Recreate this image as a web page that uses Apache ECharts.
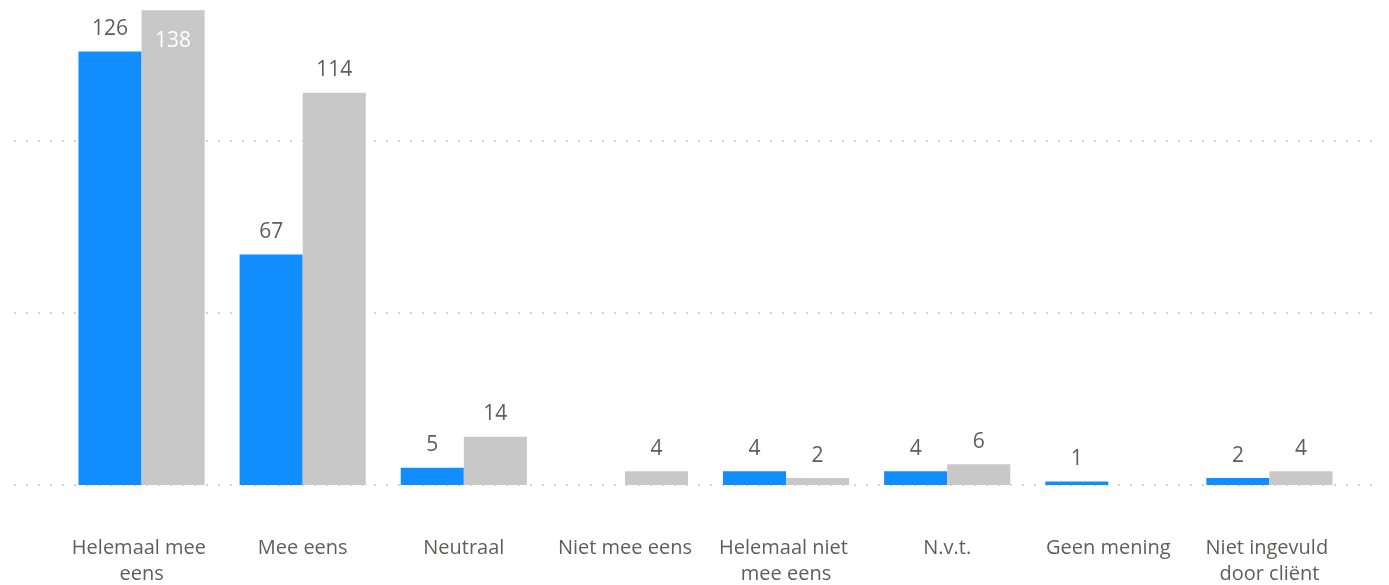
<!DOCTYPE html>
<html><head><meta charset="utf-8">
<script src="https://cdn.jsdelivr.net/npm/echarts@6/dist/echarts.min.js"></script>
<style>html,body{margin:0;padding:0;background:#fff}#c{width:1389px;height:585px}</style>
</head><body><div id="c"></div>
<script>
const categories = ['Helemaal mee eens','Mee eens','Neutraal','Niet mee eens','Helemaal niet mee eens','N.v.t.','Geen mening','Niet ingevuld door cliënt'];
const seriesBlue = [126, 67, 5, null, 4, 4, 1, 2];
const seriesGray = [138, 114, 14, 4, 2, 6, null, 4];
const yTicks = [0, 50, 100, 150];

const FONT = '"Open Sans", sans-serif';
const labelColor = '#605E5C';
const yMax = yTicks[yTicks.length - 1];

function mkData(arr, insideAbove) {
  return arr.map(v => {
    if (v !== null && v >= insideAbove) {
      return {value: v, label: {position: 'insideTop', color: '#ffffff', distance: 20}};
    }
    return v;
  });
}

const chart = echarts.init(document.getElementById('c'), null, {renderer: 'canvas'});
chart.setOption({
  animation: false,
  grid: [
    {left: 14, right: 7, top: -31, bottom: 100, outerBoundsMode: 'none', containLabel: false},
    {left: 61, right: 39, top: -31, bottom: 100, outerBoundsMode: 'none', containLabel: false}
  ],
  xAxis: [
    {gridIndex: 0, type: 'value', show: false, min: 0, max: 1},
    {gridIndex: 1, type: 'category', data: categories,
     axisLine: {show: false}, axisTick: {show: false},
     axisLabel: {color: labelColor, fontFamily: FONT, fontSize: 20, margin: 50, lineHeight: 26,
                 width: 150, overflow: 'break', interval: 0}}
  ],
  yAxis: [
    {gridIndex: 0, type: 'value', min: yTicks[0], max: yMax, interval: 50,
     axisLabel: {show: false}, axisLine: {show: false}, axisTick: {show: false},
     splitLine: {show: true, lineStyle: {color: '#d4d4d4', width: 2, type: [2, 10]}}},
    {gridIndex: 1, type: 'value', min: yTicks[0], max: yMax, interval: 50, show: false,
     splitLine: {show: false}}
  ],
  series: [
    {type: 'bar', xAxisIndex: 1, yAxisIndex: 1, data: mkData(seriesBlue, 1000),
     itemStyle: {color: '#118DFF'}, barGap: '0%', barCategoryGap: '21.7%', z: 1,
     label: {show: true, position: 'top', distance: 12, color: labelColor, fontFamily: FONT, fontSize: 21,
             formatter: p => (p.value ? p.value : '')}},
    {type: 'bar', xAxisIndex: 1, yAxisIndex: 1, data: mkData(seriesGray, 130),
     itemStyle: {color: '#C8C8C8'}, barGap: '0%', barCategoryGap: '21.7%', z: 1,
     label: {show: true, position: 'top', distance: 12, color: labelColor, fontFamily: FONT, fontSize: 21,
             formatter: p => (p.value ? p.value : '')}}
  ]
});
</script></body></html>
